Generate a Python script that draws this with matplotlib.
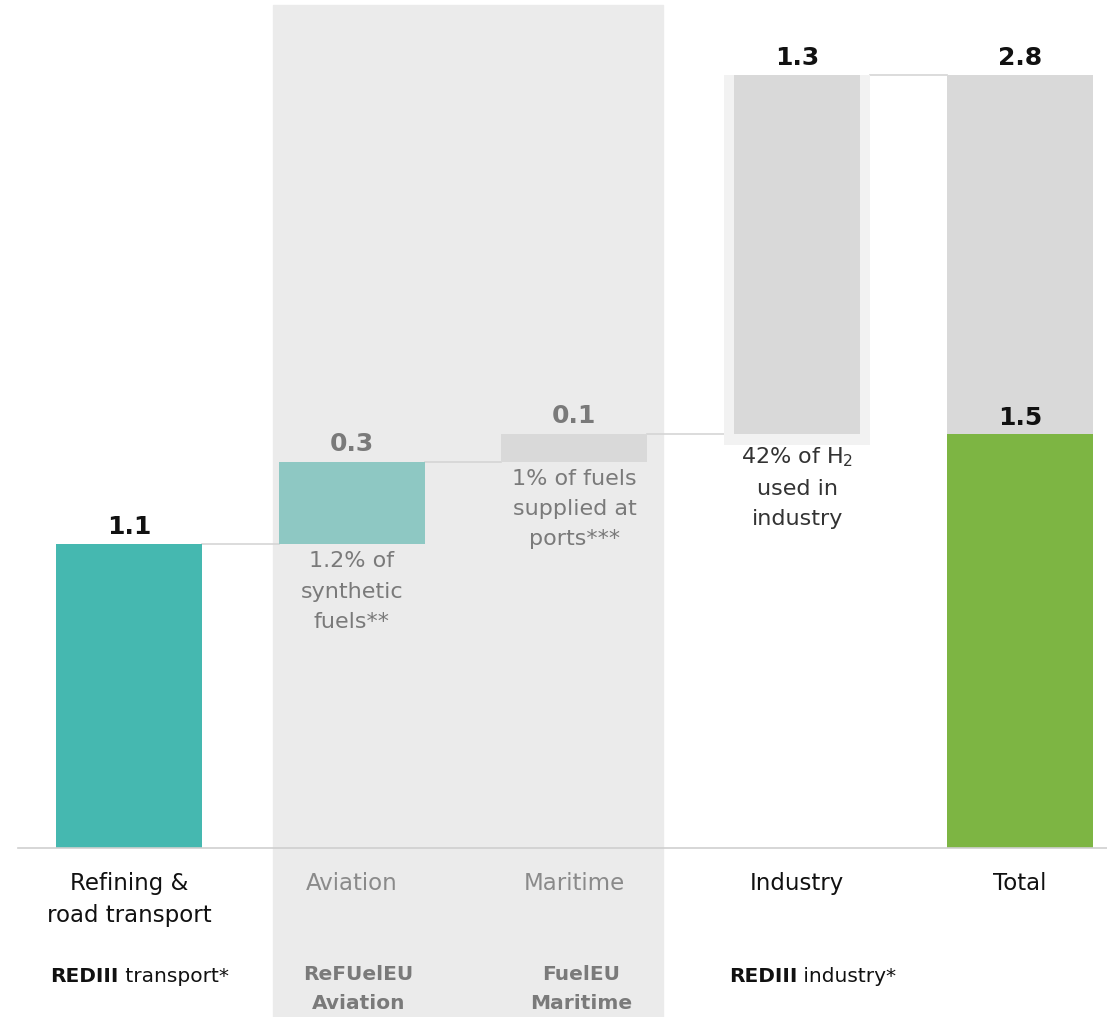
import matplotlib.pyplot as plt

plt.rcParams['font.family'] = ['DejaVu Sans']

# data
categories = ['Refining &\nroad transport', 'Aviation', 'Maritime', 'Industry', 'Total']
increments = [1.1, 0.3, 0.1, 1.3]
total = 2.8
total_green = 1.5
notes = ['', '1.2% of\nsynthetic\nfuels**', '1% of fuels\nsupplied at\nports***', '42% of H$_2$\nused in\nindustry']
policy_bold = ['REDIII', 'ReFUelEU\nAviation', 'FuelEU\nMaritime', 'REDIII']
policy_rest = [' transport*', '', '', ' industry*']

inc_colors = ['#45b8b0', '#8ec8c3', '#d9d9d9', '#d9d9d9']
val_colors = ['#111111', '#7a7a7a', '#7a7a7a', '#111111']
note_colors = ['#333333', '#7a7a7a', '#7a7a7a', '#333333']
cat_colors = ['#111111', '#8a8a8a', '#8a8a8a', '#111111', '#111111']

bottoms = [0]
for v in increments[:-1]:
    bottoms.append(bottoms[-1] + v)
bottoms[3] = total_green  # industry sits on top of the 1.5 bar

fig = plt.figure(figsize=(11.07, 10.17), dpi=100)
ax = fig.add_axes([0, 0, 1, 1])
ax.set_xlim(-0.579, 4.391)
ax.set_ylim(-0.612, 3.072)
ax.axis('off')

# shaded EU regulation area
ax.axvspan(0.646, 2.397, ymin=0, ymax=0.995, color='#ebebeb', zorder=0)

w = 0.655
# first three increments
for i in range(3):
    ax.bar(i, increments[i], bottom=bottoms[i], width=w, color=inc_colors[i], zorder=3)
# industry bar with light frame
ax.bar(3, increments[3] + 0.04, bottom=bottoms[3] - 0.04, width=w, color='#f2f2f2', zorder=2)
ax.bar(3, increments[3], bottom=bottoms[3], width=0.566, color=inc_colors[3], zorder=3)
# total bar
ax.bar(4, total, width=w, color='#d9d9d9', zorder=3)
ax.bar(4, total_green, width=w, color='#7db543', zorder=3)

# connectors
tops = [bottoms[i] + increments[i] for i in range(4)]
lc = '#d5d5d5'
ax.plot([0 + w / 2, 1 - w / 2], [tops[0], tops[0]], color=lc, lw=1.2, zorder=1)
ax.plot([1 + w / 2, 2 - w / 2], [tops[1], tops[1]], color=lc, lw=1.2, zorder=1)
ax.plot([2 + w / 2, 3 - w / 2], [tops[2], tops[2]], color=lc, lw=1.2, zorder=1)
ax.plot([3 + w / 2, 4 - w / 2], [total, total], color=lc, lw=1.2, zorder=1)

# baseline
ax.axhline(0, xmin=18 / 1107, xmax=1, color='#cfcfcf', lw=1.2, zorder=4)

# value labels
for i in range(4):
    ax.annotate(f'{increments[i]:.1f}', (i, tops[i]), xytext=(0, 4), textcoords='offset points',
                ha='center', va='bottom', fontsize=18, fontweight='bold', color=val_colors[i])
ax.annotate(f'{total:.1f}', (4, total), xytext=(0, 4), textcoords='offset points',
            ha='center', va='bottom', fontsize=18, fontweight='bold', color='#111111')
ax.annotate(f'{total_green:.1f}', (4, total_green), xytext=(0, 3), textcoords='offset points',
            ha='center', va='bottom', fontsize=18, fontweight='bold', color='#111111', zorder=5)

# notes under floating bars
for i in range(1, 4):
    off = -8 if i == 3 else -5
    ax.annotate(notes[i], (i, bottoms[i]), xytext=(0, off), textcoords='offset points',
                ha='center', va='top', fontsize=16, color=note_colors[i], linespacing=1.65)

# category labels
for i, c in enumerate(categories):
    ax.annotate(c, (i, 0), xytext=(0, -17), textcoords='offset points',
                ha='center', va='top', fontsize=16.5, color=cat_colors[i], linespacing=1.5)

# policy labels
fs = 14.5
ax.text(-0.045, -0.467, policy_bold[0], ha='right', va='center', fontsize=fs, fontweight='bold', color='#111111')
ax.text(-0.045, -0.467, policy_rest[0], ha='left', va='center', fontsize=fs, color='#111111')
ax.text(1.03, -0.425, policy_bold[1], ha='center', va='top', fontsize=fs, fontweight='bold', color='#7a7a7a', linespacing=1.65)
ax.text(2.03, -0.425, policy_bold[2], ha='center', va='top', fontsize=fs, fontweight='bold', color='#7a7a7a', linespacing=1.65)
ax.text(3.0, -0.467, policy_bold[3], ha='right', va='center', fontsize=fs, fontweight='bold', color='#111111')
ax.text(3.0, -0.467, policy_rest[3], ha='left', va='center', fontsize=fs, color='#111111')

fig.savefig('out.png', dpi=100)
